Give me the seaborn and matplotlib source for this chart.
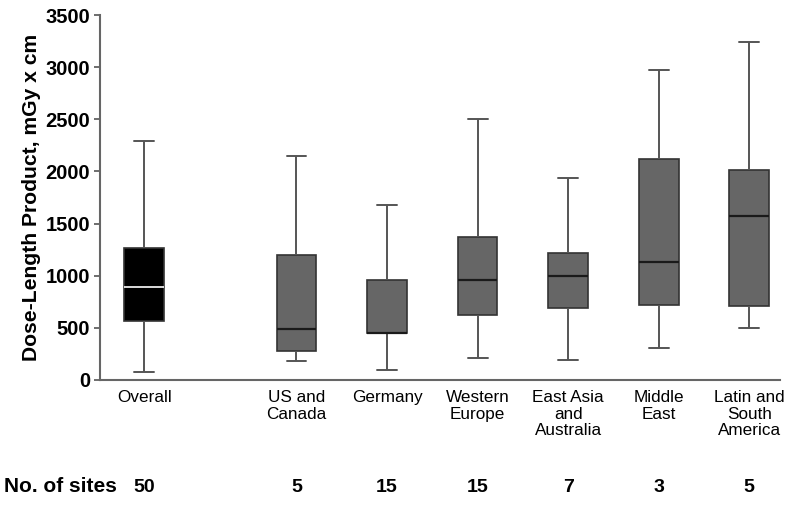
import numpy as np
import pandas as pd
import matplotlib
matplotlib.use("Agg")
import matplotlib.pyplot as plt
import matplotlib.transforms as mtransforms
import seaborn as sns

# ---- data ----
regions = ["Overall", "US and\nCanada", "Germany", "Western\nEurope",
           "East Asia\nand\nAustralia", "Middle\nEast", "Latin and\nSouth\nAmerica"]
positions = [0.0, 1.68, 2.68, 3.68, 4.68, 5.68, 6.68]
whisker_low = [80, 180, 100, 210, 195, 310, 500]
q1 = [570, 280, 455, 625, 690, 720, 710]
median = [890, 490, 455, 960, 1000, 1130, 1575]
q3 = [1270, 1200, 960, 1370, 1220, 2120, 2015]
whisker_high = [2290, 2150, 1680, 2500, 1940, 2975, 3240]
n_sites = [50, 5, 15, 15, 7, 3, 5]
yticks = [0, 500, 1000, 1500, 2000, 2500, 3000, 3500]

# five-number summary per group -> 5 observations reproduce it exactly
rows = []
for i, pos in enumerate(positions):
    for v in (whisker_low[i], q1[i], median[i], q3[i], whisker_high[i]):
        rows.append({"pos": pos, "region": regions[i], "DLP": v})
df = pd.DataFrame(rows)

sns.set_style("ticks")
plt.rcParams["font.family"] = ["Liberation Sans", "DejaVu Sans"]
plt.rcParams["text.color"] = "black"
plt.rcParams["axes.labelcolor"] = "black"
plt.rcParams["xtick.labelcolor"] = "black"
plt.rcParams["ytick.labelcolor"] = "black"

fig = plt.figure(figsize=(8, 5.07), dpi=100)
ax = fig.add_axes([0.125, 0.2505, 0.85, 0.7199])

edge = "#333333"
whisk = "#555555"
common = dict(x="pos", y="DLP", native_scale=True, whis=(0, 100), width=0.44,
              fliersize=0, ax=ax,
              boxprops=dict(edgecolor=edge, linewidth=1.2),
              whiskerprops=dict(color=whisk, linewidth=1.4),
              capprops=dict(color=whisk, linewidth=1.4))

sns.boxplot(data=df[df["pos"] == positions[0]], color="#000000",
            medianprops=dict(color="white", linewidth=1.2), **common)
sns.boxplot(data=df[df["pos"] != positions[0]], color="#666666",
            medianprops=dict(color="#1a1a1a", linewidth=1.6), **common)

for p in ax.patches:
    p.set_alpha(1)

ax.set_xlim(-0.49, 7.02)
ax.set_ylim(0, 3500)
ax.set_yticks(yticks)
ax.set_yticklabels([str(t) for t in yticks], fontsize=14.5, fontweight="bold")
ax.set_xticks(positions)
ax.set_xticklabels(regions, fontsize=12.3, linespacing=1.15, va="top")
ax.tick_params(axis="x", length=0, pad=7)
ax.tick_params(axis="y", length=4, width=1.2, color="#555555", pad=3)
ax.set_xlabel("")
ax.set_ylabel("Dose-Length Product, mGy x cm", fontsize=15.2, fontweight="bold",
              labelpad=3)

sns.despine(ax=ax)
for s in ("left", "bottom"):
    ax.spines[s].set_color("#666666")
    ax.spines[s].set_linewidth(1.5)

# "No. of sites" row
trans = mtransforms.blended_transform_factory(ax.transData, fig.transFigure)
y_row = 1 - 487 / 507
fig.text(4 / 800, y_row, "No. of sites", fontsize=15, fontweight="bold",
         ha="left", va="center")
for pos, n in zip(positions, n_sites):
    ax.text(pos, y_row, str(n), transform=trans, fontsize=14, fontweight="bold",
            ha="center", va="center")

fig.savefig("out.png", dpi=100)
